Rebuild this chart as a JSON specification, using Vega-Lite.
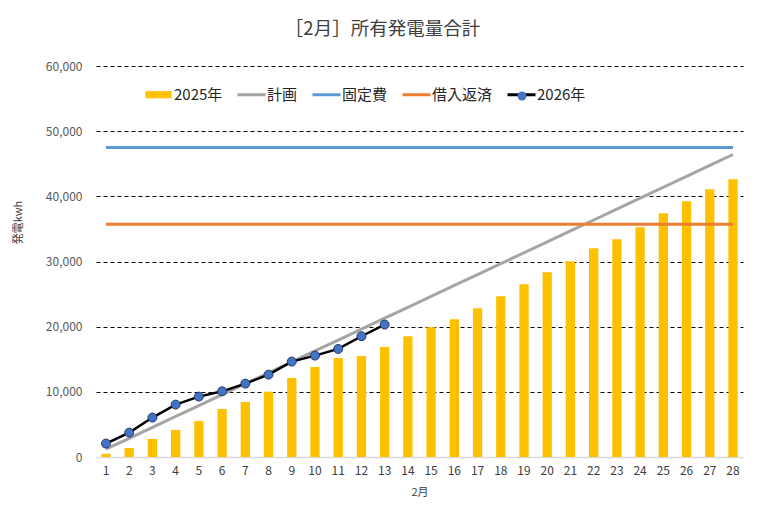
{
  "$schema": "https://vega.github.io/schema/vega-lite/v6.json",
  "autosize": {"type": "none"},
  "padding": {"left": 96, "top": 66, "right": 28, "bottom": 72},
  "width": 647,
  "height": 391,
  "background": "white",
  "title": {
    "text": "［2月］所有発電量合計",
    "font": "Noto Sans CJK JP",
    "fontSize": 18.5,
    "fontWeight": "normal",
    "color": "#404040",
    "anchor": "middle",
    "frame": "group",
    "dx": -37,
    "offset": 22
  },
  "config": {
    "view": {"stroke": null},
    "font": "Noto Sans CJK JP"
  },
  "data": {
    "values": [
      {"day": 1, "y2025": 500, "plan": 1195, "fixed": 47500, "loan": 35700, "y2026": 2060},
      {"day": 2, "y2025": 1380, "plan": 2870, "fixed": 47500, "loan": 35700, "y2026": 3740},
      {"day": 3, "y2025": 2760, "plan": 4545, "fixed": 47500, "loan": 35700, "y2026": 6050},
      {"day": 4, "y2025": 4140, "plan": 6220, "fixed": 47500, "loan": 35700, "y2026": 8040},
      {"day": 5, "y2025": 5520, "plan": 7895, "fixed": 47500, "loan": 35700, "y2026": 9270},
      {"day": 6, "y2025": 7360, "plan": 9570, "fixed": 47500, "loan": 35700, "y2026": 10080},
      {"day": 7, "y2025": 8440, "plan": 11245, "fixed": 47500, "loan": 35700, "y2026": 11260},
      {"day": 8, "y2025": 10030, "plan": 12920, "fixed": 47500, "loan": 35700, "y2026": 12640},
      {"day": 9, "y2025": 12120, "plan": 14595, "fixed": 47500, "loan": 35700, "y2026": 14640},
      {"day": 10, "y2025": 13800, "plan": 16270, "fixed": 47500, "loan": 35700, "y2026": 15560},
      {"day": 11, "y2025": 15180, "plan": 17945, "fixed": 47500, "loan": 35700, "y2026": 16580},
      {"day": 12, "y2025": 15490, "plan": 19620, "fixed": 47500, "loan": 35700, "y2026": 18530},
      {"day": 13, "y2025": 16870, "plan": 21295, "fixed": 47500, "loan": 35700, "y2026": 20320},
      {"day": 14, "y2025": 18540, "plan": 22970, "fixed": 47500, "loan": 35700},
      {"day": 15, "y2025": 19910, "plan": 24645, "fixed": 47500, "loan": 35700},
      {"day": 16, "y2025": 21140, "plan": 26320, "fixed": 47500, "loan": 35700},
      {"day": 17, "y2025": 22820, "plan": 27995, "fixed": 47500, "loan": 35700},
      {"day": 18, "y2025": 24660, "plan": 29670, "fixed": 47500, "loan": 35700},
      {"day": 19, "y2025": 26500, "plan": 31345, "fixed": 47500, "loan": 35700},
      {"day": 20, "y2025": 28350, "plan": 33020, "fixed": 47500, "loan": 35700},
      {"day": 21, "y2025": 30040, "plan": 34695, "fixed": 47500, "loan": 35700},
      {"day": 22, "y2025": 32040, "plan": 36370, "fixed": 47500, "loan": 35700},
      {"day": 23, "y2025": 33420, "plan": 38045, "fixed": 47500, "loan": 35700},
      {"day": 24, "y2025": 35260, "plan": 39720, "fixed": 47500, "loan": 35700},
      {"day": 25, "y2025": 37410, "plan": 41395, "fixed": 47500, "loan": 35700},
      {"day": 26, "y2025": 39250, "plan": 43070, "fixed": 47500, "loan": 35700},
      {"day": 27, "y2025": 41090, "plan": 44745, "fixed": 47500, "loan": 35700},
      {"day": 28, "y2025": 42630, "plan": 46420, "fixed": 47500, "loan": 35700}
    ]
  },
  "layer": [
    {
      "mark": {"type": "bar"},
      "encoding": {
        "x": {
          "field": "day",
          "type": "ordinal",
          "scale": {"type": "band", "paddingInner": 0.6, "paddingOuter": 0.23},
          "axis": {
            "title": "2月",
            "titleFontSize": 11,
            "titleFontWeight": "normal",
            "titleColor": "#404040",
            "titlePadding": 10,
            "labelAngle": 0,
            "labelFontSize": 12,
            "labelColor": "#404040",
            "labelPadding": 8,
            "ticks": false,
            "domainColor": "#D9D9D9",
            "domainWidth": 1.5,
            "grid": false
          }
        },
        "y": {
          "field": "y2025",
          "type": "quantitative",
          "scale": {"domain": [0, 60000], "nice": false},
          "axis": {
            "title": "発電kwh",
            "titleFontSize": 11,
            "titleFontWeight": "normal",
            "titleColor": "#404040",
            "titleX": -78,
            "titleY": 156,
            "titleAlign": "center",
            "titleBaseline": "middle",
            "values": [0, 10000, 20000, 30000, 40000, 50000, 60000],
            "format": ",.0f",
            "labelFontSize": 12,
            "labelColor": "#595959",
            "labelPadding": 14,
            "domain": false,
            "ticks": false,
            "grid": true,
            "gridColor": "#000000",
            "gridDash": [4, 3],
            "gridWidth": 1,
            "gridOpacity": {"condition": {"test": "datum.value === 0", "value": 0}, "value": 1}
          }
        },
        "color": {
          "datum": "y2025",
          "type": "nominal",
          "scale": {
            "domain": ["y2025", "plan", "fixed", "loan", "y2026"],
            "range": ["#FFC000", "#A5A5A5", "#5B9BD5", "#ED7D31", "#000000"]
          },
          "legend": {
            "title": null,
            "orient": "none",
            "legendX": 55,
            "legendY": 21,
            "direction": "horizontal",
            "symbolSize": 784,
            "labelFontSize": 15,
            "labelColor": "#262626",
            "labelOffset": 8,
            "columnPadding": 8,
            "labelExpr": "{'y2025':'2025年','plan':'計画','fixed':'固定費','loan':'借入返済','y2026':'2026年'}[datum.value]",
            "encode": {
              "symbols": {
                "update": {
                  "shape": {"signal": "datum.value === 'y2025' ? 'M-0.9,-0.22H0.9V0.22H-0.9Z' : 'M-1,0H1'"},
                  "strokeWidth": {"signal": "datum.value === 'y2025' ? 1 : 3"},
                  "opacity": {"value": 1}
                }
              }
            }
          }
        }
      }
    },
    {
      "mark": {"type": "line", "strokeWidth": 3},
      "encoding": {
        "x": {"field": "day", "type": "ordinal"},
        "y": {"field": "plan", "type": "quantitative"},
        "color": {"datum": "plan", "type": "nominal"}
      }
    },
    {
      "mark": {"type": "line", "strokeWidth": 3},
      "encoding": {
        "x": {"field": "day", "type": "ordinal"},
        "y": {"field": "fixed", "type": "quantitative"},
        "color": {"datum": "fixed", "type": "nominal"}
      }
    },
    {
      "mark": {"type": "line", "strokeWidth": 3},
      "encoding": {
        "x": {"field": "day", "type": "ordinal"},
        "y": {"field": "loan", "type": "quantitative"},
        "color": {"datum": "loan", "type": "nominal"}
      }
    },
    {
      "transform": [{"filter": "isValid(datum.y2026)"}],
      "mark": {"type": "line", "strokeWidth": 2.5},
      "encoding": {
        "x": {"field": "day", "type": "ordinal"},
        "y": {"field": "y2026", "type": "quantitative"},
        "color": {"datum": "y2026", "type": "nominal"}
      }
    },
    {
      "transform": [{"filter": "isValid(datum.y2026)"}],
      "mark": {"type": "point", "filled": true, "fill": "#4472C4", "stroke": "#203864", "strokeWidth": 1, "size": 80, "opacity": 1},
      "encoding": {
        "x": {"field": "day", "type": "ordinal"},
        "y": {"field": "y2026", "type": "quantitative"},
        "shape": {
          "datum": "y2026",
          "type": "nominal",
          "scale": {"domain": ["y2026"], "range": ["circle"]},
          "legend": {
            "title": null,
            "orient": "none",
            "legendX": 421,
            "legendY": 25,
            "symbolSize": 80,
            "symbolFillColor": "#4472C4",
            "symbolStrokeColor": "#203864",
            "symbolStrokeWidth": 1,
            "symbolOpacity": 1,
            "labelExpr": "''",
            "labelFontSize": 1,
            "labelOffset": 0
          }
        }
      }
    }
  ]
}
